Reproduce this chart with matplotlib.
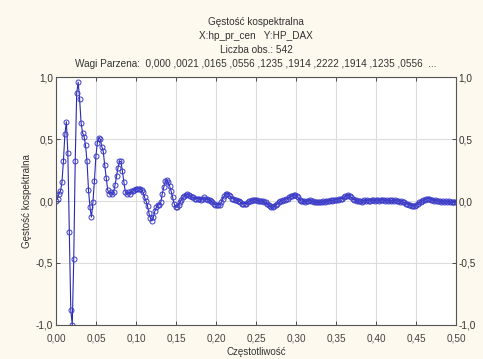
import numpy as np
import matplotlib.pyplot as plt
from matplotlib.ticker import FuncFormatter, MultipleLocator

# Data: cospectral density, N = 542 observations
n_obs = 542
density = [
    0.00, 0.02, 0.06, 0.08, 0.15, 0.32, 0.54, 0.64, 0.39, -0.25,
    -0.88, -1.00, -0.47, 0.32, 0.87, 0.96, 0.82, 0.63, 0.55, 0.52,
    0.45, 0.32, 0.09, -0.05, -0.13, -0.01, 0.16, 0.36, 0.47, 0.51,
    0.50, 0.44, 0.40, 0.29, 0.19, 0.09, 0.06, 0.07, 0.06, 0.07,
    0.13, 0.20, 0.27, 0.32, 0.32, 0.24, 0.15, 0.07, 0.06, 0.07,
    0.06, 0.08, 0.08, 0.09, 0.10, 0.10, 0.10, 0.10, 0.09, 0.07,
    0.03, 0.00, -0.04, -0.10, -0.14, -0.16, -0.13, -0.08, -0.05, -0.03,
    -0.03, -0.01, 0.06, 0.11, 0.16, 0.17, 0.15, 0.12, 0.08, 0.03,
    -0.02, -0.05, -0.05, -0.03, -0.01, 0.01, 0.03, 0.04, 0.05, 0.06,
    0.05, 0.04, 0.03, 0.03, 0.02, 0.02, 0.02, 0.02, 0.01, 0.02,
    0.03, 0.02, 0.02, 0.01, 0.01, 0.00, -0.01, -0.02, -0.03, -0.03,
    -0.03, -0.03, -0.01, 0.02, 0.04, 0.06, 0.06, 0.05, 0.04, 0.02,
    0.02, 0.01, 0.01, 0.00, 0.00, -0.01, -0.02, -0.02, -0.02, -0.02,
    -0.01, 0.00, 0.00, 0.01, 0.01, 0.01, 0.01, 0.00, 0.00, 0.00,
    0.00, -0.01, -0.01, -0.02, -0.03, -0.04, -0.05, -0.05, -0.04, -0.03,
    -0.02, -0.01, 0.00, 0.00, 0.01, 0.01, 0.02, 0.02, 0.03, 0.04,
    0.04, 0.05, 0.05, 0.04, 0.03, 0.01, 0.00, 0.00, 0.00, -0.01,
    0.00, 0.00, 0.01, 0.00, 0.00, -0.01, -0.01, -0.01, -0.01, -0.01,
    -0.01, 0.00, -0.01, 0.00, 0.00, 0.00, 0.01, 0.00, 0.01, 0.01,
    0.01, 0.01, 0.02, 0.02, 0.02, 0.03, 0.04, 0.04, 0.05, 0.04,
    0.03, 0.02, 0.01, 0.01, 0.00, 0.00, 0.00, -0.01, 0.00, 0.01,
    0.00, 0.01, 0.00, 0.00, 0.01, 0.01, 0.00, 0.01, 0.01, 0.00,
    0.01, 0.01, 0.01, 0.00, 0.01, 0.00, 0.01, 0.00, 0.01, 0.00,
    0.01, 0.00, 0.00, -0.01, 0.00, -0.01, -0.01, -0.02, -0.02, -0.03,
    -0.03, -0.04, -0.04, -0.04, -0.03, -0.02, -0.01, -0.01, 0.00, 0.01,
    0.01, 0.02, 0.02, 0.02, 0.01, 0.01, 0.00, 0.01, 0.00, 0.00,
    0.00, -0.01, 0.00, -0.01, 0.00, -0.01, 0.00, -0.01, -0.01, -0.01,
    -0.01, -0.01,
]
freq = np.arange(len(density)) / n_obs

plt.rcParams["font.family"] = ["Liberation Sans", "DejaVu Sans"]

fig = plt.figure(figsize=(4.83, 3.59), dpi=100, facecolor="#fdf9ee")
ax = fig.add_axes([0.116, 0.095, 0.828, 0.690])
ax.set_facecolor("white")

ax.plot(freq, density, color="#2a2ab0", lw=0.8,
        marker="o", markersize=3.6, markerfacecolor="none",
        markeredgecolor="#3c3cc8", markeredgewidth=0.7)

ax.set_xlim(0, 0.5)
ax.set_ylim(-1, 1)
ax.xaxis.set_major_locator(MultipleLocator(0.05))
ax.yaxis.set_major_locator(MultipleLocator(0.5))
ax.xaxis.set_major_formatter(FuncFormatter(lambda v, p: f"{v:.2f}".replace(".", ",")))
ax.yaxis.set_major_formatter(FuncFormatter(lambda v, p: f"{v:.1f}".replace(".", ",").replace("-0,0", "0,0")))

ax.grid(True, color="#dcdcdc", lw=0.8)
ax.set_axisbelow(True)
ax.tick_params(direction="in", length=3, width=0.6, labelsize=7.2, colors="#333333",
               top=True, right=True, labelright=True, pad=2)
ax.tick_params(axis="x", labelcolor="#444444", pad=6)
for s in ax.spines.values():
    s.set_color("#555555")
    s.set_linewidth(0.8)

title = ("Gęstość kospektralna\nX:hp_pr_cen   Y:HP_DAX\nLiczba obs.: 542\n"
         "Wagi Parzena:  0,000 ,0021 ,0165 ,0556 ,1235 ,1914 ,2222 ,1914 ,1235 ,0556  ...")
ax.set_title(title, fontsize=7.2, color="#333333", linespacing=1.5, pad=7)
ax.set_ylabel("Gęstość kospektralna", fontsize=7, color="#333333", labelpad=3)
ax.set_xlabel("Częstotliwość", fontsize=7, color="#333333", labelpad=3)

fig.savefig("out.png", dpi=100, facecolor=fig.get_facecolor())
